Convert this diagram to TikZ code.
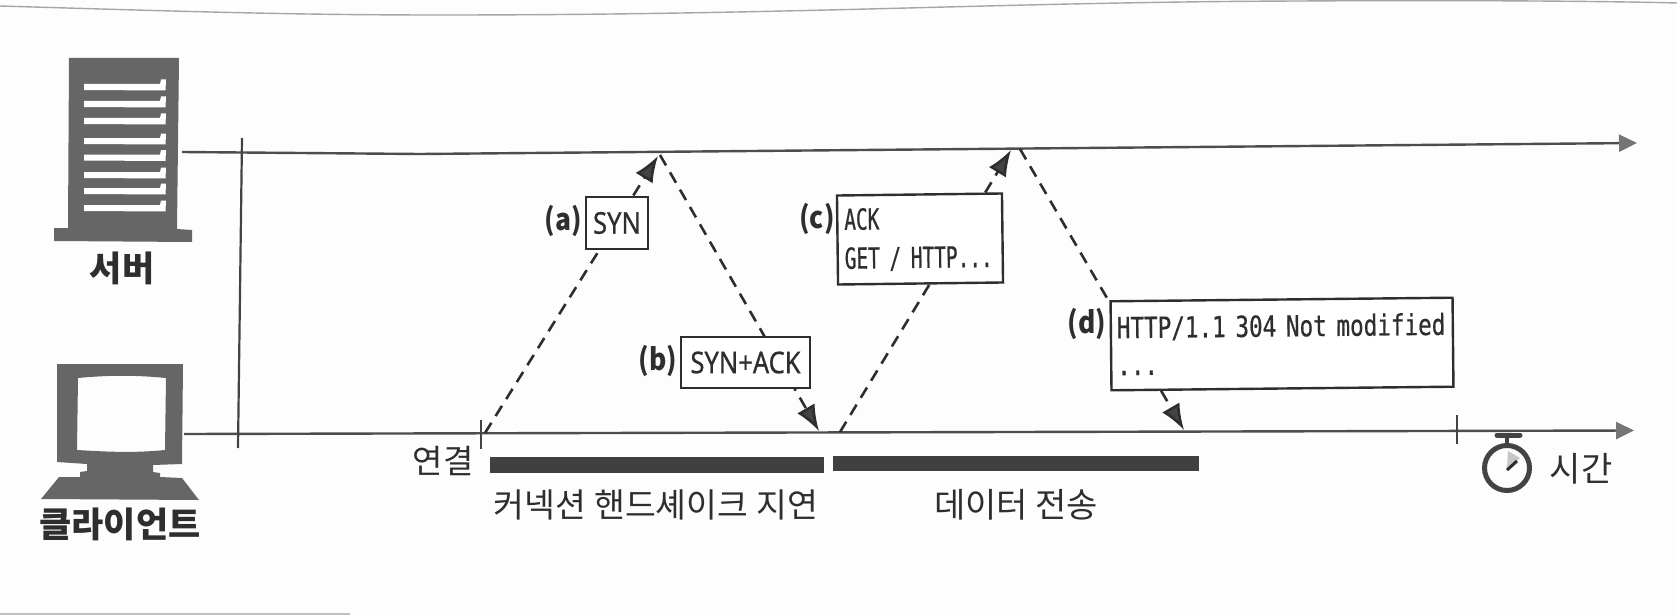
\documentclass[tikz,border=0pt]{standalone}
\usepackage{fontspec}
\usetikzlibrary{arrows.meta}
\setmainfont{Noto Sans}
\newfontfamily\krfont{Noto Sans CJK KR}
\newfontfamily\tagfont[FakeStretch=0.88]{Noto Sans CJK KR}
\newfontfamily\boxsans[FakeStretch=0.85,FakeBold=0.6]{Noto Sans}
\newfontfamily\monoc[FakeStretch=0.67,FakeBold=0.6]{DejaVu Sans Mono}
\newfontfamily\monod[FakeStretch=0.78,FakeBold=0.6]{DejaVu Sans Mono}
\definecolor{ink}{HTML}{2E2E2E}
\definecolor{icon}{HTML}{666666}
\definecolor{bar}{HTML}{404040}
\definecolor{paper}{HTML}{FDFDFD}
\tikzset{
  axisline/.style={draw=ink!85,line width=2.4pt},
  timearrow/.style={axisline,-{Triangle[length=18pt,width=17pt,color=icon!90,fill=icon!90]}},
  tickline/.style={draw=ink!90,line width=2.2pt},
  flow/.style={draw=ink,line width=2.6pt,dash pattern=on 12pt off 8pt,-{Latex[length=26pt,width=20pt,fill=ink!90]}},
  msgbox/.style={draw=ink,line width=2.4pt,fill=white,inner sep=0pt,outer sep=0pt},
  tag/.style={font=\fontsize{30}{32}\selectfont\tagfont\bfseries,text=ink,inner sep=0pt},
  kr/.style={font=\fontsize{#1}{#1}\selectfont\krfont,text=ink,inner sep=0pt},
  krb/.style={font=\fontsize{#1}{#1}\selectfont\krfont\bfseries,text=ink,inner sep=0pt},
  durbar/.style={fill=bar,draw=none},
  slat/.style={fill=white,draw=none},
}
\begin{document}
\begin{tikzpicture}[x=1pt,y=-1pt]
\useasboundingbox (0,0) rectangle (1677,615);
\fill[paper] (0,0) rectangle (1677,615);
% page edges
\draw[gray!70,line width=1.4pt] (0,6) .. controls (200,12) and (300,15) .. (440,15) .. controls (800,15) and (1000,2) .. (1300,1) .. controls (1450,0) and (1600,1) .. (1677,3);
\draw[gray!50,line width=2pt] (0,613.5) -- (350,613.5);
% named anchors
\coordinate (srvstart) at (182,152);
\coordinate (srvbend) at (420,154);
\coordinate (srvend) at (1637,143);
\coordinate (clistart) at (184,434);
\coordinate (cliend) at (1634,430.5);
\coordinate (vtop) at (242,138);
\coordinate (vbot) at (238,448);
\coordinate (c0) at (485,433);
\coordinate (s1) at (658,156);
\coordinate (s1b) at (660,155);
\coordinate (c1) at (819,431);
\coordinate (c1b) at (840,432);
\coordinate (s2) at (1011,150);
\coordinate (s2b) at (1020,149);
\coordinate (c2) at (1184,430);
\coordinate (t0a) at (481,420);
\coordinate (t0b) at (481,449);
\coordinate (t1a) at (1457,415);
\coordinate (t1b) at (1457,444);
% axes
\draw[axisline] (srvstart) -- (srvbend);
\draw[timearrow] (srvbend) -- (srvend);
\draw[timearrow] (clistart) -- (cliend);
\draw[tickline] (vtop) -- (vbot);
\draw[tickline] (t0a) -- (t0b);
\draw[tickline] (t1a) -- (t1b);
% flows
\draw[flow] (c0) -- (s1);
\draw[flow] (s1b) -- (c1);
\draw[flow] (c1b) -- (s2);
\draw[flow] (s2b) -- (c2);
% boxes
\node[msgbox,minimum width=62pt,minimum height=52pt,font=\fontsize{30}{30}\selectfont\boxsans,text=ink] (syn) at (617,223) {\raisebox{-2pt}{SYN}};
\node[msgbox,minimum width=129pt,minimum height=51pt,font=\fontsize{30}{30}\selectfont\boxsans,text=ink] (synack) at (745.5,362.5) {\raisebox{-2pt}{SYN+ACK}};
\node[msgbox,rotate=0.7,minimum width=165pt,minimum height=89pt,text width=151pt,align=left,font=\fontsize{29}{37}\selectfont\monoc,text=ink] (ackget) at (920,239) {\raisebox{-2pt}{ACK}\\\raisebox{-4pt}{GET / HTTP...}};
\node[msgbox,rotate=0.6,minimum width=342pt,minimum height=89pt,text width=330pt,align=left,font=\fontsize{29}{36}\selectfont\monod,text=ink] (resp) at (1282,344) {\raisebox{-1pt}{HTTP/1.1 304 Not modified}\\\raisebox{-2pt}{...}};
\node[tag] (la) at (563,221) {(a)};
\node[tag] (lb) at (658,361) {(b)};
\node[tag] (lc) at (817,219) {(c)};
\node[tag] (ld) at (1087,324) {(d)};
% duration bars
\fill[durbar] (490,457) rectangle (824,473);
\fill[durbar] (833,456) rectangle (1199,471);
% texts
\node[kr=33] (conn) at (443,461) {연결};
\node[kr=33.5] (hs) at (656,505) {커넥션\hspace{8pt}핸드셰이크\hspace{8pt}지연};
\node[kr=34] (data) at (1016,505) {데이터 전송};
\node[kr=34] (time) at (1581,469) {시간};
\node[krb=35] (srv) at (122,268) {서버};
\node[krb=35] (cli) at (120,524) {클라이언트};
% server icon
\fill[icon] (69,58) -- (179,58) -- (177,229) -- (192,230) -- (192,242) -- (54,241) -- (54,228) -- (68,228) -- cycle;
\foreach \y in {87,104,121,141,157.5,175,191,208}{
  \fill[slat] (84,\y-3) -- (160,\y-3) -- (161,\y-7.5) -- (166,\y-7.5) -- (165.5,\y+3.5) -- (84,\y+3) -- cycle;
}
% client icon
\fill[icon,even odd rule] (57,364) -- (183,364) -- (182,464) -- (153,465) -- (153,472) -- (160,473) -- (160,477) -- (182,478) -- (199,500) -- (41,499) -- (59,477) -- (80,477) -- (80,472) -- (87,471) -- (87,464) -- (57,462) -- cycle
 (78,378) .. controls (110,375) and (135,375) .. (166,378) -- (165,450) .. controls (135,453) and (110,452) .. (77,450) -- cycle;
% stopwatch
\draw[ink!90,line width=5pt] (1507,468) circle (22.5);
\draw[ink!90,line width=5pt,line cap=round] (1497,435) -- (1520,435);
\draw[ink!90,line width=4pt] (1507,435) -- (1507,446);
\fill[gray!45] (1507,468) -- (1508,451) -- (1520,458) -- cycle;
\draw[ink,line width=3pt] (1507,470) -- (1517,461);
\end{tikzpicture}
\end{document}
